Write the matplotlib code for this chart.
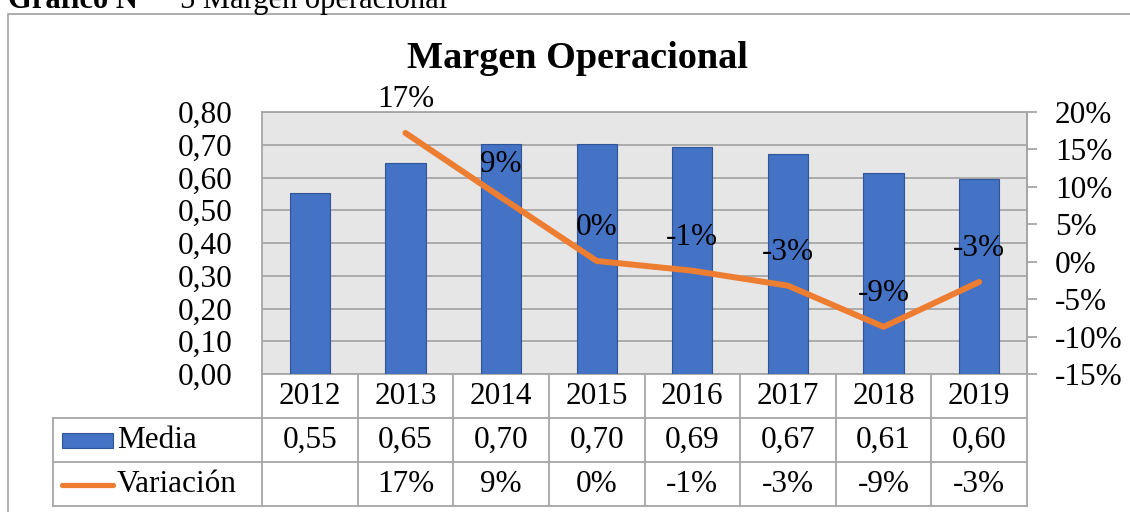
"""Margen Operacional: barras de media + línea de variación con tabla de datos (estilo Excel)."""

import matplotlib

matplotlib.use("Agg")
import matplotlib.pyplot as plt
from matplotlib.lines import Line2D
from matplotlib.patches import Rectangle

matplotlib.rcParams["font.family"] = ["Liberation Serif", "DejaVu Serif"]

years = ["2012", "2013", "2014", "2015", "2016", "2017", "2018", "2019"]
media = [0.553, 0.644, 0.702, 0.702, 0.693, 0.672, 0.614, 0.595]
media_txt = ["0,55", "0,65", "0,70", "0,70", "0,69", "0,67", "0,61", "0,60"]
variacion = [None, 0.172, 0.086, 0.001, -0.012, -0.032, -0.087, -0.027]
variacion_txt = ["", "17%", "9%", "0%", "-1%", "-3%", "-9%", "-3%"]
left_ticks = [0.0, 0.1, 0.2, 0.3, 0.4, 0.5, 0.6, 0.7, 0.8]
right_ticks = [-0.15, -0.10, -0.05, 0.0, 0.05, 0.10, 0.15, 0.20]

BLUE = "#4472C4"
ORANGE = "#ED7D31"
GRID = "#A6A6A6"
FS = 22.5

W, H = 1130, 512
fig = plt.figure(figsize=(W / 100, H / 100), dpi=100)

# marco exterior y encabezado (recortado arriba, como en el original)
fig.patches.append(Rectangle((8 / W, -0.05), 1.2, 1 - 14 / H + 0.05, transform=fig.transFigure,
                             fill=False, edgecolor="#A0A0A0", lw=1.2))
fig.text(8 / W, 1 - 8 / H, "Gráfico N°", fontsize=22, fontweight="bold", va="baseline")
fig.text(180 / W, 1 - 8 / H, "5 Margen operacional", fontsize=22, va="baseline")
fig.text(577 / W, 1 - 68 / H, "Margen Operacional", fontsize=27.5, fontweight="bold",
         ha="center", va="baseline")

ax = fig.add_axes([262 / W, 1 - 374 / H, 765 / W, 262 / H])
ax.set_facecolor("#E7E6E6")
x = list(range(len(years)))
ax.bar(x, media, width=0.42, color=BLUE, edgecolor="#2F5597", lw=0.8, zorder=3)
ax.set_xlim(-0.5, len(years) - 0.5)
ax.set_ylim(0, 0.8)
ax.set_yticks(left_ticks)
ax.set_yticklabels([f"{v:.2f}".replace(".", ",") for v in left_ticks], fontsize=FS)
ax.tick_params(axis="y", length=0, pad=21)
ax.set_xticks([])
ax.grid(axis="y", color=GRID, lw=1.3, zorder=1)
for s in ax.spines.values():
    s.set_color(GRID)
    s.set_linewidth(1.3)

ax2 = ax.twinx()
xs = [i for i, v in enumerate(variacion) if v is not None]
vs = [v for v in variacion if v is not None]
ax2.plot(xs, vs, color=ORANGE, lw=4.3, solid_capstyle="round", solid_joinstyle="round", zorder=4)
for i, v in zip(xs, vs):
    ax2.annotate(variacion_txt[i], (i, v), xytext=(0, 24), textcoords="offset points",
                 ha="center", va="center", fontsize=FS)
ax2.set_ylim(-0.15, 0.20)
ax2.set_yticks(right_ticks)
ax2.set_yticklabels([f"{round(v * 100)}%" for v in right_ticks], fontsize=FS)
ax2.tick_params(axis="y", direction="out", length=7, width=1.3, color=GRID, pad=13)
for s in ax2.spines.values():
    s.set_visible(False)
ax2.spines["right"].set_visible(True)
ax2.spines["right"].set_color(GRID)
ax2.spines["right"].set_linewidth(1.3)

# tabla de datos
tr = ax.get_xaxis_transform()
n = len(years)
rows_y = [0, -44 / 262, -88 / 262, -132 / 262]
x_left = -0.5 - (262 - 53) / 95.625
lkw = dict(color=GRID, lw=1.3, transform=tr, clip_on=False)
for k in range(n + 1):
    ax.add_line(Line2D([k - 0.5, k - 0.5], [rows_y[0], rows_y[3]], **lkw))
for yy in rows_y[1:]:
    ax.add_line(Line2D([x_left, n - 0.5], [yy, yy], **lkw))
ax.add_line(Line2D([x_left, x_left], [rows_y[1], rows_y[3]], **lkw))

for i in x:
    ax.text(i, (rows_y[0] + rows_y[1]) / 2, years[i], transform=tr, ha="center", va="center",
            fontsize=FS)
    ax.text(i, (rows_y[1] + rows_y[2]) / 2, media_txt[i], transform=tr, ha="center", va="center",
            fontsize=FS)
    ax.text(i, (rows_y[2] + rows_y[3]) / 2, variacion_txt[i], transform=tr, ha="center",
            va="center", fontsize=FS)

# claves de leyenda dentro de la tabla
fig.patches.append(Rectangle((62 / W, 1 - 448 / H), 51 / W, 15 / H, transform=fig.transFigure,
                             facecolor=BLUE, edgecolor="#2F5597", lw=0.8))
fig.lines.append(Line2D([62 / W, 113 / W], [1 - 485 / H, 1 - 485 / H], transform=fig.transFigure,
                        color=ORANGE, lw=3.8, solid_capstyle="round"))
ax.text(-0.5 - (262 - 117) / 95.625, (rows_y[1] + rows_y[2]) / 2, "Media", transform=tr,
        ha="left", va="center", fontsize=FS)
ax.text(-0.5 - (262 - 117) / 95.625, (rows_y[2] + rows_y[3]) / 2, "Variación", transform=tr,
        ha="left", va="center", fontsize=FS)

fig.savefig("out.png", dpi=100)
